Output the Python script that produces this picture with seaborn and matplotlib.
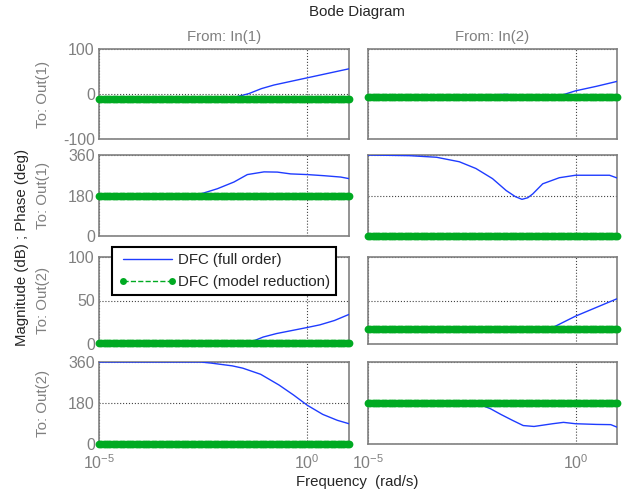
"""
Bode diagram, 2x2 MIMO system: full order DFC vs model reduction.
"""
import matplotlib.pyplot as plt
import numpy as np
import pandas as pd
import seaborn as sns
from matplotlib.lines import Line2D

sns.set_theme(style="white", context="notebook")
plt.rcParams["font.family"] = ["Liberation Sans", "DejaVu Sans"]
plt.rcParams["mathtext.fontset"] = "custom"
plt.rcParams["mathtext.rm"] = "Liberation Sans"
plt.rcParams["mathtext.it"] = "Liberation Sans:italic"
plt.rcParams["axes.unicode_minus"] = False

# ---- data (log10 frequency, value) -------------------------------------------
row_labels = ["To: Out(1)", "To: Out(1)", "To: Out(2)", "To: Out(2)"]
col_labels = ["From: In(1)", "From: In(2)"]
row_ylims = [(-100, 100), (0, 360), (0, 100), (0, 360)]
row_yticks = [[-100, 0, 100], [0, 180, 360], [0, 50, 100], [0, 180, 360]]

# full order (blue), per panel [row][col]
full_lw_00 = [-5, -1.9, -1.6, -1.4, -1.1, -0.8, -0.5, 0, 0.5, 1.0]
full_v_00 = [-10, -10, -4, 1, 12, 20, 26, 36, 46, 56]
full_lw_01 = [-5, -1.85, -1.8, -1.6, -1.55, -1.0, -0.95, -0.85, -0.8, -0.45, 0, 0.5, 1.0]
full_v_01 = [-7, -7, -1, -1, -7, -7, -13, -13, -7, -6, 7, 17, 28]
full_lw_10 = [-5, -2.8, -2.56, -2.16, -1.76, -1.44, -1.04, -0.72, -0.4, 0, 0.4, 0.8, 1.0]
full_v_10 = [180, 180, 187, 210, 240, 273, 285, 284, 276, 273, 268, 262, 255]
full_lw_11 = [-5, -4.0, -3.35, -2.8, -2.4, -2.0, -1.67, -1.45, -1.29, -1.15, -1.03,
              -0.79, -0.39, 0, 0.82, 1.0]
full_v_11 = [360, 357, 350, 330, 300, 255, 202, 175, 163, 170, 187, 232, 259, 270, 270, 258]
full_lw_20 = [-5, -1.42, -1.06, -0.74, 0, 0.3, 0.65, 1.0]
full_v_20 = [1, 1, 8, 12, 19, 22, 27, 34]
full_lw_21 = [-5, -1.5, -1.45, -0.95, -0.9, -0.63, 0, 0.5, 1.0]
full_v_21 = [17, 17, 14, 14, 17, 17, 32, 42, 52]
full_lw_30 = [-5, -2.56, -2.3, -1.8, -1.55, -1.12, -0.68, -0.33, 0, 0.37, 0.72, 1.0]
full_v_30 = [360, 360, 355, 343, 333, 306, 259, 215, 170, 130, 104, 89]
full_lw_31 = [-5, -2.4, -2.05, -1.8, -1.52, -1.26, -1.0, -0.55, -0.29, 0, 0.5, 0.85, 1.0]
full_v_31 = [180, 180, 155, 130, 104, 81, 77, 89, 95, 89, 86, 85, 74]

full = {(0, 0): (full_lw_00, full_v_00), (0, 1): (full_lw_01, full_v_01),
        (1, 0): (full_lw_10, full_v_10), (1, 1): (full_lw_11, full_v_11),
        (2, 0): (full_lw_20, full_v_20), (2, 1): (full_lw_21, full_v_21),
        (3, 0): (full_lw_30, full_v_30), (3, 1): (full_lw_31, full_v_31)}

# model reduction (green): constant level per panel, sampled on the bode grid
red_level = {(0, 0): -10, (0, 1): -7, (1, 0): 180, (1, 1): 0,
             (2, 0): 1, (2, 1): 17, (3, 0): 0, (3, 1): 178}
w_grid = np.logspace(-5, 1, 110)

BLUE = "#1f3cff"
GREEN = "#00aa22"
GRAY = "#808080"

# ---- layout (pixel boxes of the reference) -----------------------------------
W, H = 632, 496
rows_px = [(49, 139), (155, 236), (257, 344), (362, 444)]
cols_px = [(99, 349), (368, 617)]

fig = plt.figure(figsize=(W / 100, H / 100), dpi=100)

for r, (top, bot) in enumerate(rows_px):
    for c, (left, right) in enumerate(cols_px):
        ax = fig.add_axes([left / W, 1 - bot / H, (right - left) / W, (bot - top) / H])
        lw, v = full[(r, c)]
        blue = pd.DataFrame({"w": 10.0 ** np.array(lw), "val": v})
        sns.lineplot(data=blue, x="w", y="val", color=BLUE, lw=1.0, sort=False,
                     estimator=None, ax=ax, zorder=3)
        red = pd.DataFrame({"w": w_grid, "val": red_level[(r, c)]})
        sns.lineplot(data=red, x="w", y="val", color=GREEN, lw=1.0, linestyle="--",
                     marker="o", markersize=5.6, markeredgewidth=0, sort=False,
                     estimator=None, ax=ax, clip_on=False, zorder=4)

        ax.set_xscale("log")
        ax.set_xlim(1e-5, 1e1)
        ax.set_ylim(*row_ylims[r])
        ax.set_xticks([1e-5, 1e0])
        ax.minorticks_off()
        ax.set_yticks(row_yticks[r])
        ax.grid(True, linestyle=":", color="#444444", linewidth=0.8)
        ax.set_xlabel(""); ax.set_ylabel("")
        ax.tick_params(length=0, labelsize=11.5, labelcolor=GRAY, pad=3)
        ax.tick_params(axis="x", pad=7)
        for s in ax.spines.values():
            s.set_color(GRAY); s.set_linewidth(1.2)
        if r < 3:
            ax.set_xticklabels([])
        if c == 1:
            ax.set_yticklabels([])
        if r == 0:
            ax.set_title(col_labels[c], fontsize=10.8, color=GRAY, pad=6)
        if c == 0:
            fig.text(43 / W, 1 - (top + bot) / 2 / H, row_labels[r], rotation=90,
                     ha="center", va="center", fontsize=10.8, color=GRAY)

fig.text(357 / W, 1 - 12 / H, "Bode Diagram", ha="center", va="center", fontsize=10.8)
fig.text(357 / W, 1 - 482 / H, "Frequency  (rad/s)", ha="center", va="center",
         fontsize=10.8)
fig.text(22 / W, 1 - 247 / H, "Magnitude (dB) ; Phase (deg)", rotation=90,
         ha="center", va="center", fontsize=10.8)

handles = [Line2D([], [], color=BLUE, lw=1.0),
           Line2D([], [], color=GREEN, lw=1.0, linestyle="--", marker="o",
                  markersize=5, markeredgewidth=0)]
leg = fig.legend(handles, ["DFC (full order)", "DFC (model reduction)"],
                 loc="upper left", bbox_to_anchor=(112 / W, 1 - 247 / H),
                 numpoints=2, handlelength=3.9, handletextpad=0.1, fontsize=10.8,
                 fancybox=False, framealpha=1, edgecolor="black",
                 borderpad=0.4, labelspacing=0.55, borderaxespad=0)
leg.get_frame().set_linewidth(1.5)
leg.set_zorder(10)

fig.savefig("out.png", dpi=100)
